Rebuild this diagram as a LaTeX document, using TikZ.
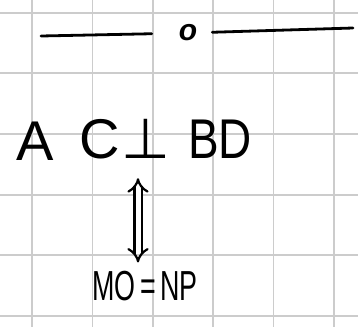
\documentclass[tikz,border=0pt]{standalone}
\usepackage{fontspec}
\usepackage{graphicx}
\setmainfont{Liberation Sans}
\newfontfamily\symfont{DejaVu Sans}
\usetikzlibrary{arrows.meta}
\begin{document}
\begin{tikzpicture}[x=1pt,y=-1pt,
  gridline/.style={draw=black!20,line width=1.6pt},
  ink/.style={line width=2.8pt,line cap=round,black},
  txt/.style={inner sep=0pt,text=black},
  big/.style={txt,font=\fontsize{56}{56}\selectfont,anchor=base}]
\useasboundingbox (0,0) rectangle (358,327);
\fill[white] (0,0) rectangle (358,327);
% grid
\foreach \x in {32,92.5,153,213,273.5,334}
  \draw[gridline] (\x,0) -- (\x,327);
\foreach \y in {13,73,134,195,255,316}
  \draw[gridline] (0,\y) -- (358,\y);
% top line with o
\node[txt,font=\fontsize{30}{30}\selectfont\itshape\bfseries] (o) at (188,33) {o};
\coordinate (L) at (41,36);
\coordinate (R) at (353,28);
\draw[ink,shorten >=27pt] (L) -- (o);
\draw[ink,shorten <=15pt] (o) -- (R);
% statements
\node[big] (a) at (35,160) {A};
\node[big] (c) at (100,158) {C};
\node[big,font=\fontsize{56}{56}\selectfont\symfont] (perp) at (146,158) {⊥};
\node[big] (bd) at (220,158) {\scalebox{0.82}[1]{BD}};
\node[txt,anchor=base] (bot) at (145,300)
  {\scalebox{0.64}[1]{\fontsize{42}{42}\selectfont MO\,=\,NP}};
\draw[line width=2.2pt,double distance=5pt,{Implies[length=9pt]}-{Implies[length=9pt]}]
  ([xshift=-8pt,yshift=-20pt]perp.south) -- ([xshift=-7pt,yshift=8pt]bot.north);
\end{tikzpicture}
\end{document}
